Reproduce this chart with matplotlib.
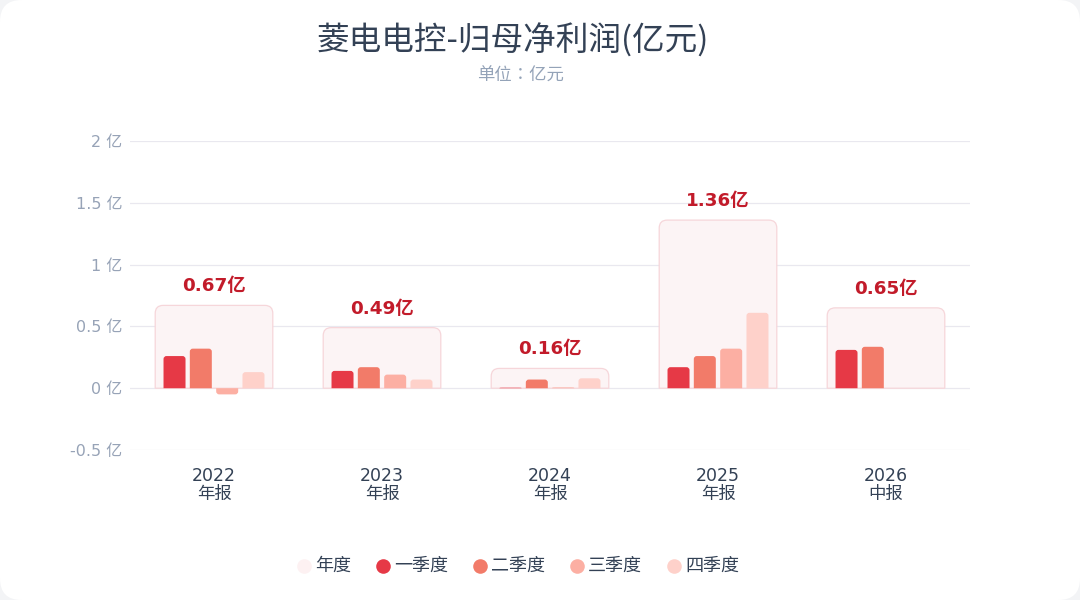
import matplotlib
matplotlib.use("Agg")
import matplotlib.pyplot as plt
from matplotlib.patches import FancyBboxPatch, PathPatch
from matplotlib.path import Path
from matplotlib.lines import Line2D

FAM = ['DejaVu Sans', 'Noto Sans CJK SC']
CJK = ['Noto Sans CJK SC', 'DejaVu Sans']
plt.rcParams['font.family'] = FAM

# ---- data ----
years = ["2022", "2023", "2024", "2025", "2026"]
report_types = ["年报", "年报", "年报", "年报", "中报"]
annual = [0.67, 0.49, 0.16, 1.36, 0.65]
q1 = [0.26, 0.14, 0.004, 0.17, 0.31]
q2 = [0.32, 0.17, 0.07, 0.26, 0.335]
q3 = [-0.05, 0.11, 0.006, 0.32, None]
q4 = [0.13, 0.07, 0.08, 0.61, None]
series_names = ["年度", "一季度", "二季度", "三季度", "四季度"]
y_ticks = [-0.5, 0, 0.5, 1, 1.5, 2]

title = "菱电电控-归母净利润(亿元)"
subtitle = "单位：亿元"

# ---- style ----
C_ANNUAL_FILL = "#fcf4f5"
C_ANNUAL_EDGE = "#f6d6da"
C_Q = ["#e63946", "#f27b69", "#fcafa3", "#fed1ca"]
C_LABEL = "#c21b2a"
C_TITLE = "#334155"
C_SUB = "#94a3b8"
C_GRID = "#e9e8ef"

W, H = 1080, 600
fig = plt.figure(figsize=(W / 100, H / 100), dpi=100)
fig.patch.set_facecolor("#f3f4f6")
card = FancyBboxPatch((0, 0), 1, 1, boxstyle="round,pad=0,rounding_size=0.02",
                      transform=fig.transFigure, facecolor="white", edgecolor="none",
                      mutation_aspect=W / H, zorder=-10)
fig.patches.append(card)

ax_l, ax_r, ax_t, ax_b = 130, 970, 141, 450
ax = fig.add_axes([ax_l / W, 1 - ax_b / H, (ax_r - ax_l) / W, (ax_b - ax_t) / H])
ax.set_facecolor("none")
ax.set_xlim(-0.5, len(years) - 0.5)
ax.set_ylim(-0.5, 2.0)
for s in ax.spines.values():
    s.set_visible(False)

ax.set_yticks(y_ticks)
ax.set_yticklabels([f"{v:g} 亿" for v in y_ticks], fontsize=11.5, color="#97a3b7")
ax.tick_params(axis="y", length=0, pad=5.5)
for v in y_ticks:
    ax.axhline(v, color=C_GRID, lw=0.9, zorder=0)

ax.set_xticks(range(len(years)))
ax.set_xticklabels([f"{y}\n{r}" for y, r in zip(years, report_types)],
                   fontsize=12.5, color=C_TITLE)
for lbl in ax.get_xticklabels():
    lbl.set_linespacing(0.95)
ax.tick_params(axis="x", length=0, pad=12.5)

px_x = (ax_r - ax_l) / len(years)          # px per x unit
px_y = (ax_b - ax_t) / 2.5                 # px per y unit


def rounded_bar_path(x0, w, v, rpx):
    """rect from 0 to v, rounded at the end away from zero"""
    rx = min(rpx / px_x, w / 2)
    ry = min(rpx / px_y, abs(v) / 2 * 0.999)
    if rx <= 0 or ry <= 0:
        rx = ry = 0
    s = 1 if v >= 0 else -1
    ry *= s
    x1 = x0 + w
    verts = [(x0, 0), (x0, v - ry), (x0, v), (x0 + rx, v), (x1 - rx, v),
             (x1, v), (x1, v - ry), (x1, 0), (x0, 0)]
    codes = [Path.MOVETO, Path.LINETO, Path.CURVE3, Path.CURVE3, Path.LINETO,
             Path.CURVE3, Path.CURVE3, Path.LINETO, Path.CLOSEPOLY]
    return Path(verts, codes)


# annual boxes
box_w = 0.70
for i, v in enumerate(annual):
    ax.add_patch(PathPatch(rounded_bar_path(i - box_w / 2, box_w, v, 8),
                           facecolor=C_ANNUAL_FILL, edgecolor=C_ANNUAL_EDGE,
                           lw=0.9, zorder=1))
    ax.text(i, v + 10 / px_y, f"{v:.2f}亿", ha="center", va="bottom",
            fontsize=13.2, fontweight="bold", color=C_LABEL, zorder=5)

# quarter bars
bar_w = 22 / px_x
offsets = [-0.235, -0.0785, 0.0785, 0.235]
for qi, (vals, col) in enumerate(zip([q1, q2, q3, q4], C_Q)):
    for i, v in enumerate(vals):
        if v is None:
            continue
        x0 = i + offsets[qi] - bar_w / 2
        ax.add_patch(PathPatch(rounded_bar_path(x0, bar_w, v, 3),
                               facecolor=col, edgecolor="none", zorder=3))

# title
fig.text(513 / W, 1 - 41 / H, title, ha="center", va="center", fontsize=23.5,
         color=C_TITLE, family=CJK)
fig.text(520 / W, 1 - 76 / H, subtitle, ha="center", va="center", fontsize=12.5,
         color=C_SUB, family=['Noto Sans CJK TC', 'DejaVu Sans'])

# legend (manual layout, measured from text widths)
fig.canvas.draw()
renderer = fig.canvas.get_renderer()
leg_colors = ["#fdf1f2"] + C_Q
leg_y = 1 - 566 / H
x = 304
for name, col in zip(series_names, leg_colors):
    fig.add_artist(Line2D([x / W], [leg_y], marker="o", ls="none", markersize=10.5,
                          markerfacecolor=col, markeredgecolor="none",
                          transform=fig.transFigure))
    t = fig.text((x + 11) / W, leg_y, name, ha="left", va="center",
                 fontsize=13, color=C_TITLE, family=CJK)
    bb = t.get_window_extent(renderer)
    x = bb.x1 + 32

fig.savefig("out.png", dpi=100, facecolor=fig.get_facecolor())
